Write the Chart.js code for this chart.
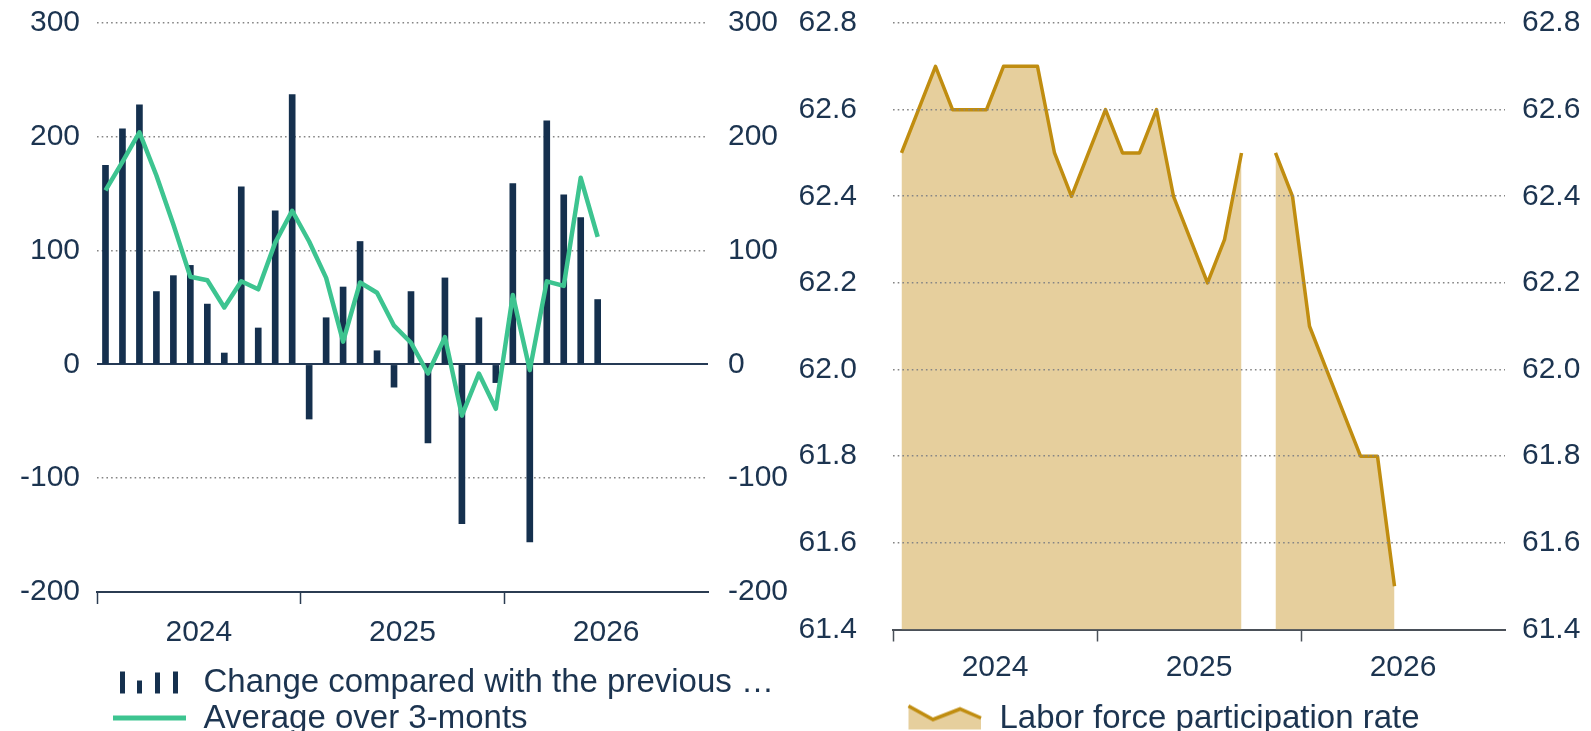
<!DOCTYPE html>
<html><head><meta charset="utf-8">
<script src="https://cdn.jsdelivr.net/npm/chart.js@4.4.1/dist/chart.umd.min.js"></script>
<style>
html,body{margin:0;padding:0;background:#fff;overflow:hidden;width:1591px;height:731px;}
.box{position:absolute;top:0;}
#l{left:0;width:795px;height:745px;}
#r{left:795px;width:796px;height:745px;}
</style></head><body>
<div class="box" id="l"><canvas id="c1"></canvas></div>
<div class="box" id="r"><canvas id="c2"></canvas></div>
<script>
// ---- data ----
const categories = [
  '2024-01','2024-02','2024-03','2024-04','2024-05','2024-06','2024-07','2024-08','2024-09','2024-10','2024-11','2024-12',
  '2025-01','2025-02','2025-03','2025-04','2025-05','2025-06','2025-07','2025-08','2025-09','2025-10','2025-11','2025-12',
  '2026-01','2026-02','2026-03','2026-04','2026-05','2026-06','2026-07','2026-08','2026-09','2026-10','2026-11','2026-12'
];
const yearLabels = ['2024', '2025', '2026'];
const payrollChange = [175, 207, 228, 64, 78, 87, 53, 10, 156, 32, 135, 237,
  -48, 41, 68, 108, 12, -20, 64, -69, 76, -140, 41, -16,
  159, -156, 214, 149, 129, 57];
const avg3m = [153, 178, 204, 166, 123, 77, 74, 50, 73, 66, 107, 135,
  108, 76, 20, 72, 63, 34, 19, -8, 24, -45, -8, -39,
  61, -5, 73, 69, 164, 112];
const participation = [62.5, 62.6, 62.7, 62.6, 62.6, 62.6, 62.7, 62.7, 62.7, 62.5, 62.4, 62.5,
  62.6, 62.5, 62.5, 62.6, 62.4, 62.3, 62.2, 62.3, 62.5, null, 62.5, 62.4,
  62.1, 62.0, 61.9, 61.8, 61.8, 61.5];
const leftTicks = [-200, -100, 0, 100, 200, 300];
const rightTicks = [61.4, 61.6, 61.8, 62.0, 62.2, 62.4, 62.6, 62.8];
const legendLeft = ['Change compared with the previous \u2026', 'Average over 3-monts'];
const legendRight = ['Labor force participation rate'];

// ---- styles ----
const NAVY = '#1c3450';
const BAR = '#15304e';
const GREEN = '#3dc490';
const GRID = '#858585';
const TAN = '#e6cf9d';
const GOLD = '#c08d10';
const FONT = "'Liberation Sans', Arial, sans-serif";
Chart.defaults.font.family = FONT;
Chart.defaults.font.size = 30;
Chart.defaults.color = NAVY;
const DOT = [1.6, 3.1];
const LEGEND_FONT = 33;

// ---- legend icons (image drawn centred in a box of width w; the glyph sits at offset o) ----
function mk(w, h, fn) { const c = document.createElement('canvas'); c.width = w; c.height = h; fn(c.getContext('2d')); return c; }
const LW = 164, LO = 90;      // left legend box width and glyph offset
const RW = 181, RO = 106;     // right legend box width and glyph offset
const iconBars = mk(LW, 30, g => {
  g.fillStyle = BAR;
  g.fillRect(LO + 7, 4, 5, 22);
  g.fillRect(LO + 24, 13, 5, 13);
  g.fillRect(LO + 42, 5, 5, 21);
  g.fillRect(LO + 60, 4, 5, 22);
});
const iconLine = mk(LW, 30, g => {
  g.fillStyle = GREEN;
  g.fillRect(LO, 12, 73, 5);
});
const iconArea = mk(RW, 32, g => {
  const pts = [[0.5, 3.5], [25, 17], [52, 6.5], [73, 15.5]].map(p => [p[0] + RO, p[1]]);
  g.fillStyle = TAN;
  g.beginPath(); g.moveTo(pts[0][0], pts[0][1]);
  pts.slice(1).forEach(p => g.lineTo(p[0], p[1]));
  g.lineTo(RO + 73, 27); g.lineTo(RO + 0.5, 27); g.closePath(); g.fill();
  g.strokeStyle = GOLD; g.lineWidth = 3.5; g.lineJoin = 'miter';
  g.beginPath(); g.moveTo(pts[0][0], pts[0][1]);
  pts.slice(1).forEach(p => g.lineTo(p[0], p[1]));
  g.stroke();
});

function xAxis(pad, extra, borderColor) {
  return {
    type: 'category',
    offset: true,
    grid: {
      offset: true, drawOnChartArea: false, drawTicks: true, tickLength: 12, tickWidth: 1.5,
      color: 'transparent',
      tickColor: c => (c.index !== undefined && c.index % 12 === 0 && c.index < 36) ? borderColor : 'transparent'
    },
    border: { display: true, color: borderColor, width: 2 },
    ticks: {
      autoSkip: false, maxRotation: 0, minRotation: 0, padding: pad, labelOffset: -8.5,
      font: { size: 30 }, color: NAVY,
      callback: (v, i) => (i % 12 === 6) ? yearLabels[Math.floor(i / 12)] : ''
    },
    afterFit: s => { s.height += extra; }
  };
}

function legendOpts(items, boxW) {
  return {
    display: true, position: 'bottom', align: 'start', fullSize: true,
    labels: {
      usePointStyle: true, pointStyleWidth: boxW, boxHeight: LEGEND_FONT, padding: 3,
      font: { size: LEGEND_FONT }, color: NAVY,
      generateLabels: () => items.map((it, i) => ({
        text: it.text, pointStyle: it.icon, fillStyle: 'transparent', strokeStyle: 'transparent',
        lineWidth: 0, hidden: false, datasetIndex: i, fontColor: NAVY
      }))
    }
  };
}

function yAxis(pos, min, max, ticks, width, gap, fmt, gridOpts) {
  return {
    position: pos, min: min, max: max,
    afterBuildTicks: s => { s.ticks = ticks.map(v => ({ value: v })); },
    afterFit: s => { s.width = width; },
    border: gridOpts.border || { display: false },
    grid: Object.assign({ drawTicks: true, tickLength: gap, tickColor: 'transparent' }, gridOpts.grid),
    ticks: { padding: 0, color: NAVY, font: { size: 30 }, callback: fmt }
  };
}

// ---- left chart ----
new Chart(document.getElementById('c1'), {
  data: {
    labels: categories,
    datasets: [
      { type: 'line', label: legendLeft[1], data: avg3m, borderColor: GREEN, borderWidth: 4.5,
        pointRadius: 0, borderJoinStyle: 'round', tension: 0, order: 0, yAxisID: 'y' },
      { type: 'bar', label: legendLeft[0], data: payrollChange, backgroundColor: BAR,
        barThickness: 6, order: 1, yAxisID: 'y' }
    ]
  },
  options: {
    responsive: true, maintainAspectRatio: false, animation: false,
    layout: { padding: { left: 20, right: 7, top: 23, bottom: 0 } },
    plugins: {
      tooltip: { enabled: false },
      legend: legendOpts([{ text: legendLeft[0], icon: iconBars }, { text: legendLeft[1], icon: iconLine }], LW)
    },
    scales: {
      x: xAxis(10.5, 2, '#2b3c52'),
      y: yAxis('left', -200, 300, leftTicks, 77, 17, v => String(v), {
        border: { display: false, dash: c => (c.tick && c.tick.value === 0) ? [] : DOT },
        grid: {
          color: c => (c.tick && c.tick.value === -200) ? 'transparent' : (c.tick && c.tick.value === 0 ? '#253a55' : GRID),
          lineWidth: c => (c.tick && c.tick.value === 0) ? 2 : 1.6
        }
      }),
      y2: yAxis('right', -200, 300, leftTicks, 80, 20, v => String(v), {
        grid: { drawOnChartArea: false }
      })
    }
  }
});

// ---- right chart ----
new Chart(document.getElementById('c2'), {
  type: 'line',
  data: {
    labels: categories,
    datasets: [
      { label: legendRight[0], data: participation, borderColor: GOLD, backgroundColor: TAN,
        borderWidth: 3.5, fill: 'start', pointRadius: 0, tension: 0, spanGaps: false,
        borderJoinStyle: 'round' }
    ]
  },
  options: {
    responsive: true, maintainAspectRatio: false, animation: false,
    layout: { padding: { left: 4, right: 11, top: 23, bottom: 0 } },
    plugins: {
      tooltip: { enabled: false },
      legend: legendOpts([{ text: legendRight[0], icon: iconArea }], RW)
    },
    scales: {
      x: xAxis(8.5, 4.5, '#4a5058'),
      y: yAxis('left', 61.4, 62.8, rightTicks, 94, 36, v => Number(v).toFixed(1), {
        border: { display: false, dash: DOT },
        grid: {
          z: 1, lineWidth: 1.6,
          color: c => (c.tick && Math.abs(c.tick.value - 61.4) < 1e-6) ? 'transparent' : GRID
        }
      }),
      y2: yAxis('right', 61.4, 62.8, rightTicks, 75, 17, v => Number(v).toFixed(1), {
        grid: { drawOnChartArea: false }
      })
    }
  }
});
</script>
</body></html>
